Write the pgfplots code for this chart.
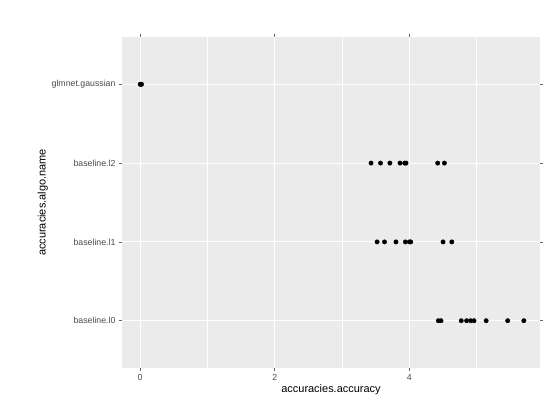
\documentclass[border=0pt]{standalone}
\usepackage{pgfplots}
\pgfplotsset{compat=1.18}
\usepackage{fontspec}
\setmainfont{Liberation Sans}
\begin{document}
\begin{tikzpicture}
\path[fill=white] (-122bp,-52bp) rectangle (428bp,368bp);
\begin{axis}[
  at={(0,0)}, anchor=south west,
  width=418bp, height=331bp, scale only axis,
  xmin=-0.27, xmax=5.94, ymin=0.4, ymax=4.6,
  axis background/.style={fill=black!8},
  axis line style={draw=none},
  tick style={draw=black!60, thick},
  tick align=outside, major tick length=3pt,
  xtick={0,2,4}, minor xtick={1,3,5}, minor tick length=0pt,
  ytick={1,2,3,4},
  yticklabels={baseline.l0,baseline.l1,baseline.l2,glmnet.gaussian},
  grid=both,
  major grid style={white, line width=1.1pt},
  minor grid style={white, line width=0.5pt},
  ticklabel style={font=\fontsize{8.8}{10}\selectfont, text=black!70},
  /pgf/number format/assume math mode=true,
  xlabel={accuracies.accuracy}, ylabel={accuracies.algo.name},
  label style={font=\fontsize{11}{13}\selectfont},
  xlabel style={yshift=3pt}, ylabel style={yshift=-3pt},
]
\addplot[only marks, mark=*, mark size=2.2pt, black] coordinates {
(0,4)(0.01,4)(0.02,4)
(3.43,3)(3.57,3)(3.71,3)(3.86,3)(3.95,3)(3.93,3)(4.42,3)(4.52,3)
(3.52,2)(3.63,2)(3.80,2)(3.94,2)(4.02,2)(4.00,2)(4.50,2)(4.63,2)
(4.43,1)(4.47,1)(4.77,1)(4.85,1)(4.91,1)(4.96,1)(5.14,1)(5.46,1)(5.70,1)
};
\node[anchor=base west, font=\fontsize{13.2}{15}\selectfont] at (rel axis cs:0,1) [yshift=9bp] {Mean Square Log Error};
\end{axis}
\end{tikzpicture}
\end{document}
